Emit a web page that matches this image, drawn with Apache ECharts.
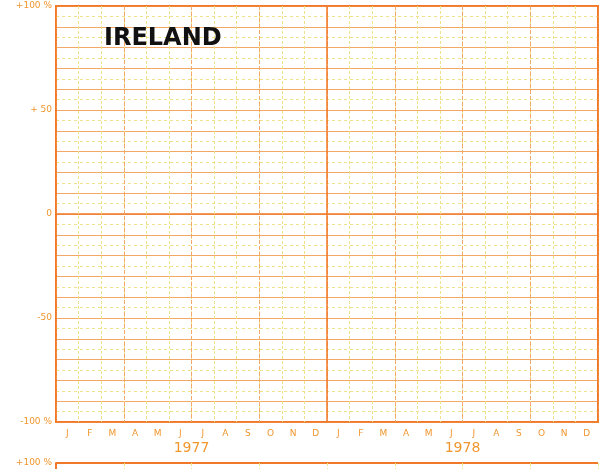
<!DOCTYPE html>
<html>
<head>
<meta charset="utf-8">
<script src="https://cdn.jsdelivr.net/npm/echarts@6/dist/echarts.min.js"></script>
<style>
  html, body { margin: 0; padding: 0; background: #ffffff; }
  #chart { width: 607px; height: 469px; }
</style>
</head>
<body>
<div id="chart"></div>
<script>
// Month initials for the two years shown on the sheet
const monthLetters = ['J','F','M','A','M','J','J','A','S','O','N','D'];
const years = ['1977', '1978'];
const quarters = ['Q1','Q2','Q3','Q4','Q1','Q2','Q3','Q4'];
const months = years.flatMap(y => monthLetters.map((m, i) => y + '-' + i));
// Percentage change scale
const yMin = -100;
const yMax = 100;
const yLabels = { '100': '+100 %', '50': '+ 50', '0': '0', '-50': '-50', '-100': '-100 %' };
// No observations plotted yet: the sheet is an empty chart form
const values = [];

const ORANGE = '#f07828';
const ORANGE_LIGHT = '#f4a868';
const YELLOW = '#efe28a';
const TEXT = '#f0962e';

const chart = echarts.init(document.getElementById('chart'), null, { renderer: 'canvas' });

const grid0 = { left: 56, top: 6, width: 542, height: 416, show: true, borderColor: ORANGE, borderWidth: 2, backgroundColor: 'transparent' };
const grid1 = { left: 56, top: 463, width: 542, height: 208, show: false };

chart.setOption({
  animation: false,
  grid: [grid0, grid1],
  title: {
    text: 'IRELAND',
    left: 99, top: 22,
    textStyle: { fontFamily: 'DejaVu Sans', fontWeight: 'bold', fontSize: 24, color: '#111111' }
  },
  xAxis: [
    { // months
      gridIndex: 0, type: 'category', data: months, boundaryGap: true,
      axisLine: { show: false }, axisTick: { show: false },
      axisLabel: { margin: 7, fontSize: 9, color: TEXT, fontFamily: 'DejaVu Sans',
        formatter: v => monthLetters[+v.split('-')[1]] },
      splitLine: { show: true, lineStyle: { color: YELLOW, width: 1, type: [3, 2] } }
    },
    { // quarters
      gridIndex: 0, type: 'category', data: quarters, boundaryGap: true, position: 'bottom',
      axisLine: { show: false }, axisTick: { show: false }, axisLabel: { show: false },
      splitLine: { show: true, lineStyle: { color: ORANGE_LIGHT, width: 1, type: [4, 2] } }
    },
    { // years
      gridIndex: 0, type: 'category', data: years, boundaryGap: true, position: 'bottom',
      axisLine: { show: false }, axisTick: { show: false },
      axisLabel: { margin: 19, fontSize: 14, color: TEXT, fontFamily: 'DejaVu Sans' },
      splitLine: { show: true, lineStyle: { color: ORANGE, width: 1.5 } }
    },
    {
      gridIndex: 1, type: 'category', data: months, boundaryGap: true,
      axisLine: { show: false }, axisTick: { show: false }, axisLabel: { show: false },
      splitLine: { show: true, lineStyle: { color: YELLOW, width: 1, type: [3, 2] } }
    }
  ],
  yAxis: [
    {
      gridIndex: 0, type: 'value', min: yMin, max: yMax, interval: 10,
      axisLine: { show: false }, axisTick: { show: false },
      axisLabel: { margin: 4, fontSize: 9, color: TEXT, fontFamily: 'DejaVu Sans',
        formatter: v => yLabels[String(v)] || '' },
      splitLine: { show: true, lineStyle: { color: ORANGE_LIGHT, width: 1 } },
      minorTick: { show: false, splitNumber: 2 },
      minorSplitLine: { show: true, lineStyle: { color: YELLOW, width: 1, type: [3, 3] } }
    },
    { // zero line
      gridIndex: 0, type: 'value', min: yMin, max: yMax, interval: 100,
      axisLine: { show: false }, axisTick: { show: false }, axisLabel: { show: false },
      splitLine: { show: true, lineStyle: { color: ORANGE, width: 1.5 } }
    },
    { // next panel, only its top edge falls inside the sheet
      gridIndex: 1, type: 'value', min: yMin, max: yMax, interval: 100,
      axisLine: { show: true, lineStyle: { color: ORANGE, width: 2 } }, axisTick: { show: false },
      axisLabel: { margin: 4, fontSize: 9, color: TEXT, fontFamily: 'DejaVu Sans',
        formatter: v => yLabels[String(v)] || '' },
      splitLine: { show: true, lineStyle: { color: ORANGE, width: 2 } }
    }
  ],
  series: [
    { type: 'line', xAxisIndex: 0, yAxisIndex: 0, data: values, showSymbol: false },
    { type: 'line', xAxisIndex: 3, yAxisIndex: 2, data: values, showSymbol: false }
  ]
});
</script>
</body>
</html>
